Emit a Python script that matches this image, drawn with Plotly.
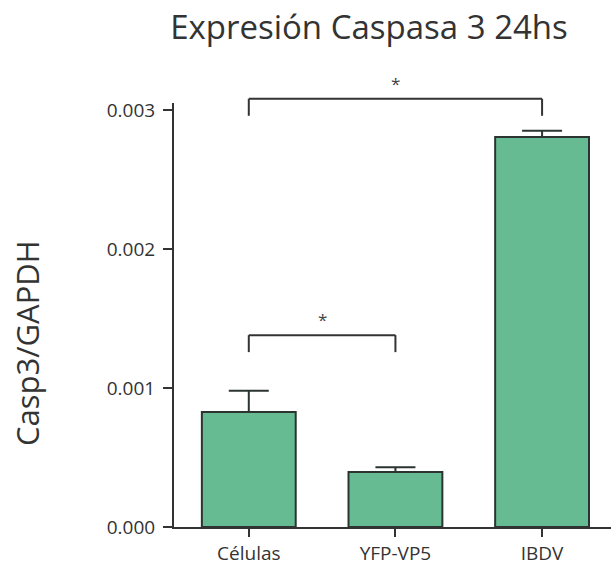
import plotly.graph_objects as go

categories = ["Células", "YFP-VP5", "IBDV"]
values = [0.000827, 0.000396, 0.002806]
errors_plus = [0.000153, 0.000034, 0.000044]
y_ticks = [0.000, 0.001, 0.002, 0.003]
y_tick_labels = ["0.000", "0.001", "0.002", "0.003"]
# significance comparisons: (index a, index b, bracket height, label)
comparisons = [(0, 2, 0.003080, "*"), (0, 1, 0.001380, "*")]

Y_MAX = 0.00305
BRACKET_DROP = 0.000122
STAR_GAP = 0.000112

line_col = "#333333"
font_main = "Open Sans"

fig = go.Figure()
fig.add_trace(go.Bar(
    x=categories, y=values,
    width=0.64,
    marker=dict(color="#67BB93", line=dict(color="#2b3430", width=2)),
    error_y=dict(type="data", array=errors_plus, arrayminus=[0, 0, 0],
                 symmetric=False, color="#2b3430", thickness=2, width=20),
    showlegend=False,
))

shapes = []
annotations = []
for a, b, h, lab in comparisons:
    top = h / Y_MAX
    bot = (h - BRACKET_DROP) / Y_MAX
    xa, xb = categories[a], categories[b]
    for (x0, y0, x1, y1) in [(xa, bot, xa, top), (xa, top, xb, top), (xb, top, xb, bot)]:
        shapes.append(dict(type="line", xref="x", yref="paper",
                           x0=x0, y0=y0, x1=x1, y1=y1,
                           line=dict(color=line_col, width=2)))
    annotations.append(dict(xref="x", yref="paper", x=(a + b) / 2,
                            y=(h + STAR_GAP) / Y_MAX, text=lab, showarrow=False,
                            font=dict(size=17, color="#444444", family=font_main),
                            yanchor="middle"))

# y-axis title placed as a rotated annotation
annotations.append(dict(xref="paper", yref="paper", x=(27 - 174) / 437, y=(527 - 343) / 424,
                        text="Casp3/GAPDH", textangle=-90, showarrow=False,
                        xanchor="center", yanchor="middle",
                        font=dict(size=31, color=line_col, family=font_main)))

fig.update_layout(
    width=611, height=565,
    margin=dict(l=174, r=0, t=103, b=38),
    paper_bgcolor="white", plot_bgcolor="white",
    title=dict(text="Expresión Caspasa 3 24hs", x=369 / 611, xanchor="center",
               y=1 - 27 / 565, yanchor="middle",
               font=dict(size=33, color=line_col, family=font_main)),
    xaxis=dict(range=[-0.51, 2.47], showline=True, linecolor=line_col, linewidth=2,
               ticks="outside", ticklen=8, tickwidth=2, tickcolor=line_col,
               tickfont=dict(size=19, color=line_col, family=font_main),
               showgrid=False, zeroline=False, fixedrange=True),
    yaxis=dict(range=[0, Y_MAX], showline=True, linecolor=line_col, linewidth=2,
               tickvals=y_ticks, ticktext=y_tick_labels,
               ticks="outside", ticklen=9, tickwidth=2, tickcolor=line_col,
               ticklabelstandoff=4,
               tickfont=dict(size=19, color=line_col, family=font_main),
               showgrid=False, zeroline=False, fixedrange=True),
    shapes=shapes, annotations=annotations,
)

fig.write_html("out.html")
